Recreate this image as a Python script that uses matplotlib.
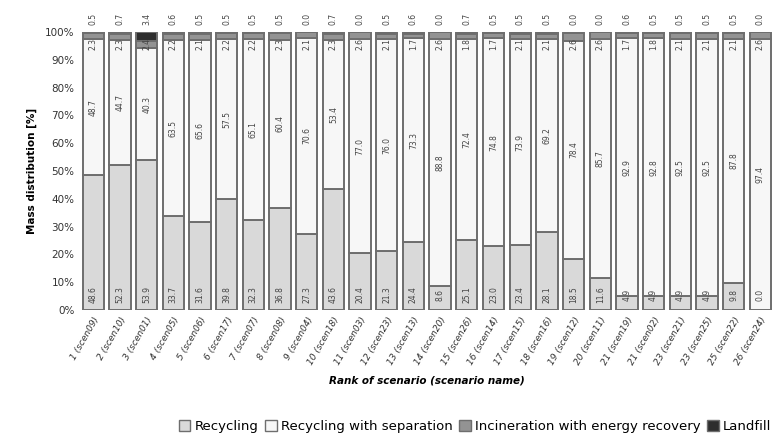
import numpy as np
import matplotlib
matplotlib.use("Agg")
import matplotlib.pyplot as plt
from matplotlib.patches import Patch

# ── Data: mass distribution per scenario (%) ────────────────────────────────
scenarios = ["1 (scen09)", "2 (scen10)", "3 (scen01)", "4 (scen05)", "5 (scen06)",
             "6 (scen17)", "7 (scen07)", "8 (scen08)", "9 (scen04)", "10 (scen18)",
             "11 (scen03)", "12 (scen23)", "13 (scen13)", "14 (scen20)", "15 (scen26)",
             "16 (scen14)", "17 (scen15)", "18 (scen16)", "19 (scen12)", "20 (scen11)",
             "21 (scen19)", "21 (scen02)", "23 (scen21)", "23 (scen25)", "25 (scen22)",
             "26 (scen24)"]

recycling = [48.6, 52.3, 53.9, 33.7, 31.6, 39.8, 32.3, 36.8, 27.3, 43.6,
             20.4, 21.3, 24.4, 8.6, 25.1, 23.0, 23.4, 28.1, 18.5, 11.6,
             4.9, 4.9, 4.9, 4.9, 9.8, 0.0]
separation = [48.7, 44.7, 40.3, 63.5, 65.6, 57.5, 65.1, 60.4, 70.6, 53.4,
              77.0, 76.0, 73.3, 88.8, 72.4, 74.8, 73.9, 69.2, 78.4, 85.7,
              92.9, 92.8, 92.5, 92.5, 87.8, 97.4]
incineration = [2.3, 2.3, 2.4, 2.2, 2.1, 2.2, 2.2, 2.3, 2.1, 2.3,
                2.6, 2.1, 1.7, 2.6, 1.8, 1.7, 2.1, 2.1, 2.6, 2.6,
                1.7, 1.8, 2.1, 2.1, 2.1, 2.6]
landfill = [0.5, 0.7, 3.4, 0.6, 0.5, 0.5, 0.5, 0.5, 0.0, 0.7,
            0.0, 0.5, 0.6, 0.0, 0.7, 0.5, 0.5, 0.5, 0.0, 0.0,
            0.6, 0.5, 0.5, 0.5, 0.5, 0.0]

series = [
    ("Recycling", recycling, "#d9d9d9"),
    ("Recycling with separation", separation, "#f7f7f7"),
    ("Incineration with energy recovery", incineration, "#939393"),
    ("Landfill", landfill, "#2e2e2e"),
]

# ── Plot ─────────────────────────────────────────────────────────────────────
fig = plt.figure(figsize=(7.76, 4.43), dpi=100)
ax = fig.add_axes([0.103, 0.300, 0.894, 0.628])

x = np.arange(len(scenarios))
bottom = np.zeros(len(scenarios))
for name, vals, col in series:
    vals = np.array(vals)
    ax.bar(x, vals, bottom=bottom, width=0.80, color=col, edgecolor="#6e6e6e",
           linewidth=1.4, label=name)
    bottom += vals

txt = dict(rotation=90, ha="center", va="center", fontsize=5.5, color="#444444")
for i in x:
    ax.text(i, 5.5, f"{recycling[i]:.1f}", **txt)
    ax.text(i, recycling[i] + separation[i] / 2, f"{separation[i]:.1f}", **txt)
    ax.text(i, 95.5, f"{incineration[i]:.1f}", **txt)
    ax.text(i, 104.5, f"{landfill[i]:.1f}", clip_on=False, **txt)

ax.set_xlim(-0.5, len(scenarios) - 0.5)
ax.set_ylim(0, 100)
ax.set_yticks(np.arange(0, 101, 10))
ax.set_yticklabels([f"{v}%" for v in range(0, 101, 10)], fontsize=7.5, color="#333333")
ax.set_xticks(x)
ax.set_xticklabels(scenarios, rotation=60, ha="right", rotation_mode="anchor",
                   fontsize=6.5, style="italic", color="#333333")
ax.tick_params(length=0, pad=4)
for s in ax.spines.values():
    s.set_visible(False)

ax.set_ylabel("Mass distribution [%]", fontsize=7.5, fontweight="bold", labelpad=6)
ax.set_xlabel("Rank of scenario (scenario name)", fontsize=7.5, fontweight="bold",
              style="italic", labelpad=6)

handles = [Patch(facecolor=c, edgecolor="#6e6e6e", label=n) for n, _, c in series]
fig.legend(handles=handles, loc="lower center", bbox_to_anchor=(0.612, -0.005), ncol=4,
           frameon=False, fontsize=9.5, handlelength=0.9, handleheight=0.9,
           handletextpad=0.3, columnspacing=0.5)

plt.savefig("out.png", dpi=100)
